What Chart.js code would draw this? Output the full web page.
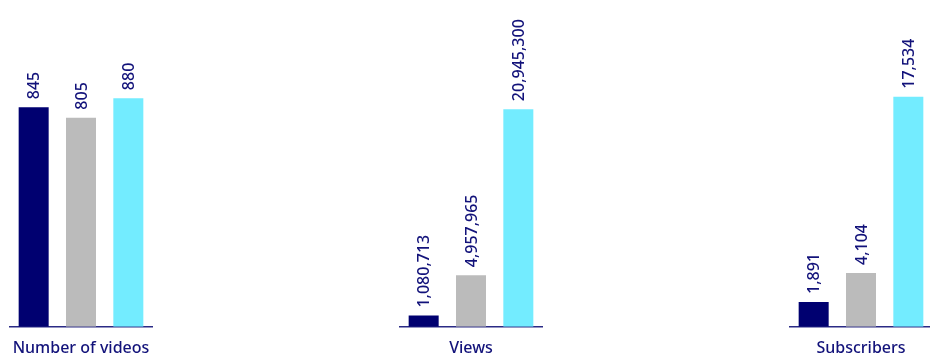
<!DOCTYPE html>
<html>
<head>
<meta charset="utf-8">
<script src="https://cdn.jsdelivr.net/npm/chart.js@4/dist/chart.umd.min.js"></script>
<style>
  html, body { margin: 0; padding: 0; background: #fff; }
  body { width: 930px; height: 354px; position: relative; overflow: hidden; }
  .panel { position: absolute; top: 0; width: 152px; height: 362px; }
</style>
</head>
<body>
<div class="panel" style="left:5px"><canvas id="c0"></canvas></div>
<div class="panel" style="left:395px"><canvas id="c1"></canvas></div>
<div class="panel" style="left:785px"><canvas id="c2"></canvas></div>
<script>
const metrics = ['Number of videos', 'Views', 'Subscribers'];
const seriesA = [845, 1080713, 1891];
const seriesB = [805, 4957965, 4104];
const seriesC = [880, 20945300, 17534];
const axisMax = [1000, 25000000, 19800];

const colors = ['#000070', '#bbbbbb', '#73ecff'];
const textColor = '#12127a';
const font = '"Noto Sans", sans-serif';

// rotated value labels above each bar
const barLabels = {
  id: 'barLabels',
  afterDatasetsDraw(chart) {
    const ctx = chart.ctx;
    ctx.save();
    ctx.fillStyle = textColor;
    ctx.font = '500 16px ' + font;
    ctx.textAlign = 'left';
    ctx.textBaseline = 'middle';
    chart.data.datasets.forEach((ds, i) => {
      chart.getDatasetMeta(i).data.forEach((bar, j) => {
        ctx.save();
        ctx.translate(bar.x + 1, bar.y - 8);
        ctx.rotate(-Math.PI / 2);
        ctx.fillText(ds.data[j].toLocaleString('en-US'), 0, 0);
        ctx.restore();
      });
    });
    ctx.restore();
  }
};

function makeChart(id, idx) {
  const values = [seriesA[idx], seriesB[idx], seriesC[idx]];
  return new Chart(document.getElementById(id), {
    type: 'bar',
    data: {
      labels: [metrics[idx]],
      datasets: values.map((v, i) => ({
        data: [v],
        backgroundColor: colors[i],
        categoryPercentage: 1,
        barPercentage: 0.634
      }))
    },
    options: {
      responsive: true,
      maintainAspectRatio: false,
      animation: false,
      layout: { padding: { top: 67, left: 5, right: 5, bottom: 0 } },
      plugins: {
        legend: { display: false },
        tooltip: { enabled: false }
      },
      scales: {
        x: {
          grid: { display: false },
          border: { display: true, color: '#2b2b85', width: 1.5 },
          ticks: { color: textColor, font: { family: font, size: 16, weight: '500' }, padding: 4 }
        },
        y: {
          display: false,
          min: 0,
          max: axisMax[idx]
        }
      }
    },
    plugins: [barLabels]
  });
}

makeChart('c0', 0);
makeChart('c1', 1);
makeChart('c2', 2);
</script>
</body>
</html>
